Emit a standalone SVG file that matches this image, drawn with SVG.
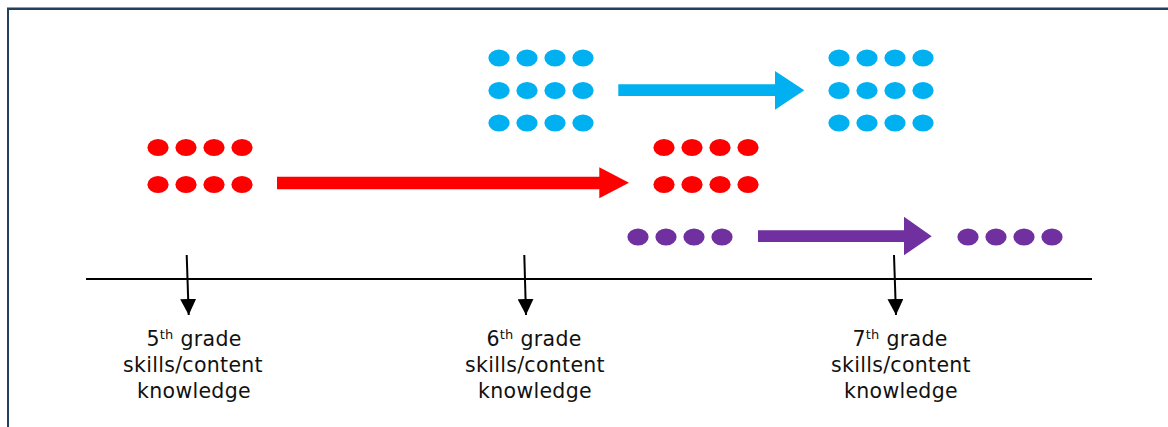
<svg xmlns="http://www.w3.org/2000/svg" width="1168" height="427" viewBox="0 0 1168 427">
<defs>
<style>
.red{fill:#FF0000}
.blue{fill:#00B0F0}
.purple{fill:#7030A0}
.lbl{font-family:"DejaVu Sans","Liberation Sans",sans-serif;font-size:20.5px;letter-spacing:0.3px;fill:#111;text-anchor:middle}
.sup{font-size:13px}
.tick{stroke:#000;stroke-width:2;fill:none}
</style>
<marker id="ah" viewBox="0 0 16 16" refX="16" refY="8" markerWidth="16" markerHeight="16" markerUnits="userSpaceOnUse" orient="auto">
<path d="M0,0 L16,8 L0,16 Z" fill="#000"/>
</marker>
<g id="row4r"><ellipse cx="0" cy="0" rx="10.6" ry="8.6"/><ellipse cx="28" cy="0" rx="10.6" ry="8.6"/><ellipse cx="56" cy="0" rx="10.6" ry="8.6"/><ellipse cx="84" cy="0" rx="10.6" ry="8.6"/></g>
</defs>
<rect width="1168" height="427" fill="#fff"/>
<g id="frame">
<line x1="7" y1="7.5" x2="1168" y2="7.5" stroke="#8C9BB0" stroke-width="1"/>
<line x1="7" y1="9" x2="1168" y2="9" stroke="#243F60" stroke-width="2"/>
<line x1="8" y1="8" x2="8" y2="427" stroke="#243F60" stroke-width="2"/>
</g>
<g id="timeline">
<line x1="86" y1="279" x2="1092" y2="279" stroke="#000" stroke-width="2"/>
</g>
<g id="grade5-dots" class="red">
<use href="#row4r" x="158" y="147.5"/>
<use href="#row4r" x="158" y="184.5"/>
</g>
<g id="grade6-red-dots" class="red">
<use href="#row4r" x="664" y="147.5"/>
<use href="#row4r" x="664" y="184.5"/>
</g>
<g id="grade6-blue-dots" class="blue">
<use href="#row4r" x="499" y="58"/>
<use href="#row4r" x="499" y="90.5"/>
<use href="#row4r" x="499" y="123"/>
</g>
<g id="grade7-blue-dots" class="blue">
<use href="#row4r" x="839" y="58"/>
<use href="#row4r" x="839" y="90.5"/>
<use href="#row4r" x="839" y="123"/>
</g>
<g id="purple-left-dots" class="purple">
<use href="#row4r" x="638" y="237"/>
</g>
<g id="purple-right-dots" class="purple">
<use href="#row4r" x="968" y="237"/>
</g>
<g id="connectors">
<path class="red" d="M277,176.7 H599.3 V167.3 L629,182.8 L599.3,198.3 V189.3 H277 Z"/>
<path class="blue" d="M618.3,84.3 H775 V71 L804.3,90.2 L775,109.7 V96 H618.3 Z"/>
<path class="purple" d="M758,230.3 H904 V216.7 L931.7,236.2 L904,255.3 V242 H758 Z"/>
<line class="tick" x1="186.7" y1="255" x2="188.7" y2="315" marker-end="url(#ah)"/>
<line class="tick" x1="524.3" y1="255" x2="526" y2="315" marker-end="url(#ah)"/>
<line class="tick" x1="894" y1="255" x2="896" y2="315" marker-end="url(#ah)"/>
</g>
<g id="label5">
<text class="lbl" x="194" y="346">5<tspan class="sup" dy="-7">th</tspan><tspan dy="7"> grade</tspan></text>
<text class="lbl" x="193" y="372">skills/content</text>
<text class="lbl" x="194" y="398">knowledge</text>
</g>
<g id="label6">
<text class="lbl" x="534" y="346">6<tspan class="sup" dy="-7">th</tspan><tspan dy="7"> grade</tspan></text>
<text class="lbl" x="535" y="372">skills/content</text>
<text class="lbl" x="535" y="398">knowledge</text>
</g>
<g id="label7">
<text class="lbl" x="900" y="346">7<tspan class="sup" dy="-7">th</tspan><tspan dy="7"> grade</tspan></text>
<text class="lbl" x="901" y="372">skills/content</text>
<text class="lbl" x="901" y="398">knowledge</text>
</g>
</svg>
